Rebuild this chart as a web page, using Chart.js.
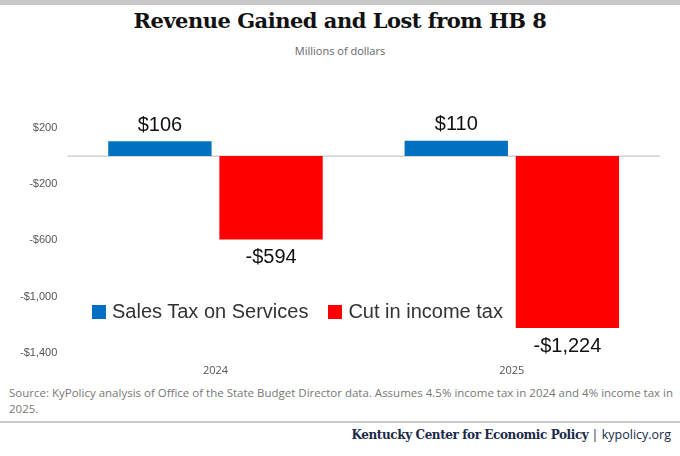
<!DOCTYPE html>
<html>
<head>
<meta charset="utf-8">
<script src="https://cdn.jsdelivr.net/npm/chart.js@4"></script>
<style>
  body { margin: 0; width: 680px; height: 456px; background: #fff; position: relative; overflow: hidden; font-family: "Open Sans", sans-serif; }
  #topbar { position: absolute; top: 0; left: 0; width: 680px; height: 5px; background: #c8c8c8; }
  #title { position: absolute; top: 8px; width: 680px; text-align: center; font-family: "DejaVu Serif", serif; font-weight: bold; font-size: 21px; color: #111; letter-spacing: -0.5px; }
  #subtitle { position: absolute; top: 43px; width: 680px; text-align: center; font-size: 11px; color: #666; }
  #wrap { position: absolute; top: 100px; left: 0; width: 680px; height: 280px; }
  #legend { position: absolute; top: 300px; left: 92px; font-family: "Liberation Sans", Arial, sans-serif; font-size: 20px; color: #333; display: flex; gap: 20px; }
  #legend span.sw { display: inline-block; width: 14px; height: 14px; margin-right: 6px; vertical-align: -1px; }
  #source { position: absolute; top: 385px; left: 9px; width: 665px; font-size: 11.5px; color: #777; line-height: 16px; }
  #rule { position: absolute; top: 421px; left: 0; width: 680px; height: 2px; background: #c8c8c8; }
  #credit { position: absolute; top: 426px; right: 9px; font-size: 12.5px; color: #1a2a4a; }
  #credit b { font-family: "DejaVu Serif", serif; font-size: 12px; letter-spacing: -0.4px; }
</style>
</head>
<body>
<div id="topbar"></div>
<div id="title">Revenue Gained and Lost from HB 8</div>
<div id="subtitle">Millions of dollars</div>
<div id="wrap"><canvas id="chart"></canvas></div>
<div id="legend">
  <div><span class="sw" style="background:#0070c0"></span>Sales Tax on Services</div>
  <div><span class="sw" style="background:#ff0000"></span>Cut in income tax</div>
</div>
<div id="source">Source: KyPolicy analysis of Office of the State Budget Director data. Assumes 4.5% income tax in 2024 and 4% income tax in 2025.</div>
<div id="rule"></div>
<div id="credit"><b>Kentucky Center for Economic Policy</b> | kypolicy.org</div>
<script>
const years = ['2024', '2025'];
const salesTax = [106, 110];
const incomeCut = [-594, -1224];
const yTicks = [200, -200, -600, -1000, -1400];

function money(v) {
  return (v < 0 ? '-$' : '$') + Math.abs(v).toLocaleString('en-US');
}

const valueLabels = {
  id: 'valueLabels',
  afterDatasetsDraw(chart) {
    const ctx = chart.ctx;
    ctx.save();
    ctx.font = '20px "Liberation Sans", Arial, sans-serif';
    ctx.fillStyle = '#111';
    ctx.textAlign = 'center';
    chart.data.datasets.forEach((ds, i) => {
      chart.getDatasetMeta(i).data.forEach((bar, j) => {
        const v = ds.data[j];
        if (v >= 0) {
          ctx.textBaseline = 'bottom';
          ctx.fillText(money(v), bar.x, bar.y - 6);
        } else {
          ctx.textBaseline = 'top';
          ctx.fillText(money(v), bar.x, bar.y + 8);
        }
      });
    });
    ctx.restore();
  }
};

new Chart(document.getElementById('chart'), {
  type: 'bar',
  data: {
    labels: years,
    datasets: [
      { label: 'Sales Tax on Services', data: salesTax, backgroundColor: '#0070c0' },
      { label: 'Cut in income tax', data: incomeCut, backgroundColor: '#ff0000' }
    ]
  },
  options: {
    responsive: true,
    maintainAspectRatio: false,
    animation: false,
    layout: { padding: { top: 28, right: 20, left: 10 } },
    categoryPercentage: 0.75,
    barPercentage: 0.93,
    plugins: { legend: { display: false }, tooltip: { enabled: false } },
    scales: {
      x: {
        grid: { display: false },
        border: { display: false },
        ticks: { color: '#555', font: { size: 11, family: 'Open Sans' } }
      },
      y: {
        min: -1400,
        max: 200,
        afterBuildTicks(axis) { axis.ticks = yTicks.map(v => ({ value: v })); },
        grid: {
          color: c => c.tick && c.tick.value === 0 ? '#bbb' : 'transparent',
          drawTicks: false
        },
        border: { display: false },
        ticks: {
          padding: 10,
          color: '#555',
          font: { size: 11, family: 'Liberation Sans' },
          callback: v => money(v)
        }
      }
    }
  },
  plugins: [valueLabels, {
    id: 'zeroLine',
    beforeDatasetsDraw(chart) {
      const { ctx, chartArea, scales } = chart;
      const y0 = scales.y.getPixelForValue(0);
      ctx.save();
      ctx.strokeStyle = '#bbb';
      ctx.lineWidth = 1;
      ctx.beginPath();
      ctx.moveTo(chartArea.left, y0);
      ctx.lineTo(chartArea.right, y0);
      ctx.stroke();
      ctx.restore();
    }
  }]
});
</script>
</body>
</html>
